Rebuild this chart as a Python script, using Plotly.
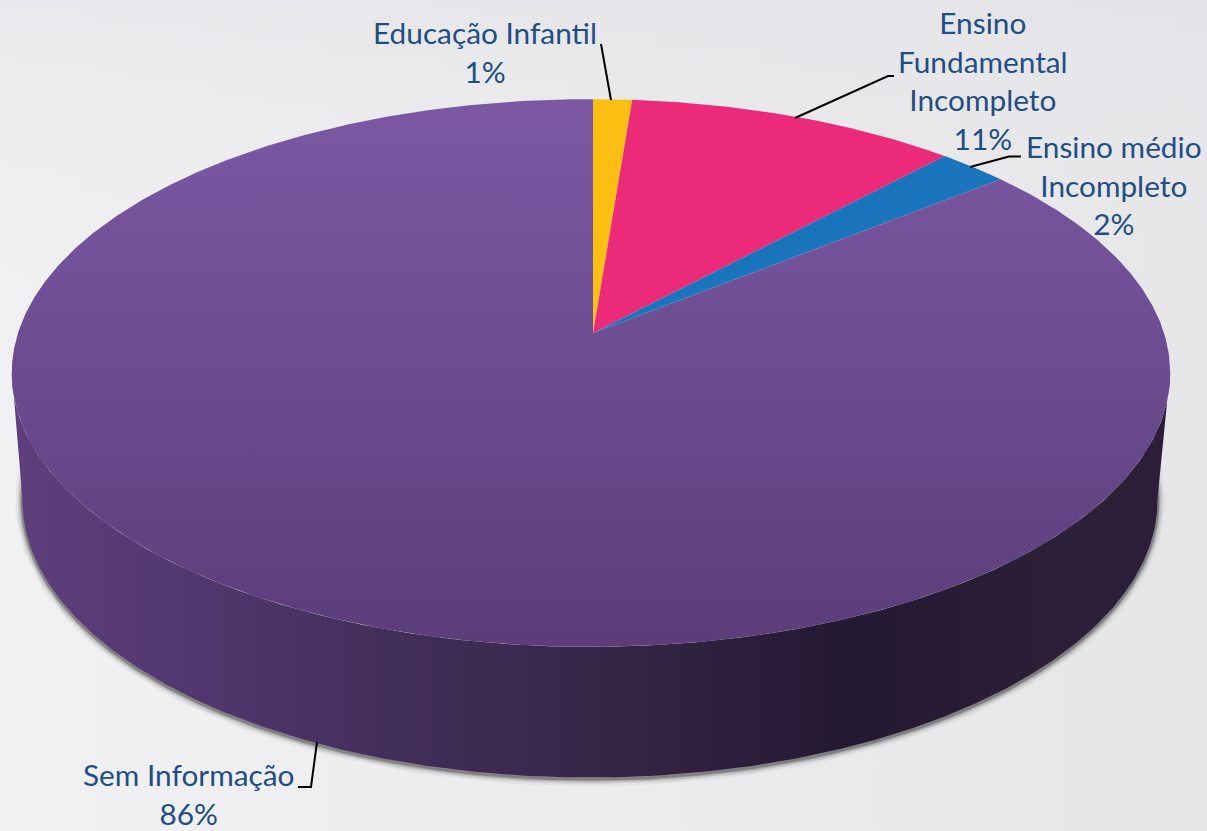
import numpy as np
import plotly.graph_objects as go

categories = ["Educação Infantil", "Ensino Fundamental Incompleto", "Ensino médio Incompleto", "Sem Informação"]
values = [1.25, 10.67, 2.28, 85.8]
tick_labels = ["1%", "11%", "2%", "86%"]
slice_colors = ["#FBBF14", "#EB2A7A", "#1B75BC", None]

# projection of the tilted disc onto the page
APEX = (593.0, 333.0)
A, B, K, M = 573.0, 268.0, 0.146, 0.0035
RIM_SCALE_X, RIM_SCALE_Y, RIM_X, RIM_Y = 0.98, 1.015, 592.0, 459.0


def project(t):
    d = 1 + K * np.cos(t) + M * np.sin(t)
    return A * np.sin(t) / d, -B * np.cos(t) / d


def top(t):
    x, y = project(t)
    return APEX[0] + x, APEX[1] + y


def rim(t):
    x, y = project(t)
    return RIM_X + RIM_SCALE_X * x, RIM_Y + RIM_SCALE_Y * y


fig = go.Figure()

# page background
fig.add_trace(go.Scatter(
    x=[0, 1207, 1207, 0, 0], y=[0, 0, 831, 831, 0], mode="lines", line=dict(width=0),
    fill="toself", hoverinfo="skip",
    fillgradient=dict(type="horizontal", start=0, stop=1207,
                      colorscale=[[0, "#F1F1F3"], [0.5, "#ECECEE"], [1, "#E6E6E9"]])))
fig.add_trace(go.Scatter(
    x=[0, 1207, 1207, 0, 0], y=[0, 0, 831, 831, 0], mode="lines", line=dict(width=0),
    fill="toself", hoverinfo="skip",
    fillgradient=dict(type="vertical", start=0, stop=831,
                      colorscale=[[0, "rgba(225,225,230,0.5)"], [0.45, "rgba(240,240,242,0)"], [1, "rgba(240,240,242,0)"]])))

# soft contact shadow under the side wall
arc = np.radians(np.linspace(85, 275, 300))
sx, sy = rim(arc)
for w, op in [(15, 0.05), (11, 0.08), (8, 0.12), (5, 0.2), (3, 0.3)]:
    fig.add_trace(go.Scatter(x=sx, y=sy + 1.5, mode="lines", hoverinfo="skip",
                             line=dict(color=f"rgba(50,50,50,{op})", width=w)))

# side wall
lower = np.radians(np.linspace(98, 262, 400))
rx, ry = rim(lower)
edge = np.radians(np.linspace(262, 98, 200))
ex, ey = top(edge)
fig.add_trace(go.Scatter(
    x=np.r_[rx, ex], y=np.r_[ry, ey], mode="lines", line=dict(width=0), fill="toself", hoverinfo="skip",
    fillgradient=dict(type="horizontal", start=15, stop=1170,
                      colorscale=[[0, "#5E3F7C"], [0.1, "#573A74"], [0.25, "#483263"], [0.5, "#362648"],
                                  [0.72, "#241933"], [0.92, "#2C1F38"], [1, "#2C1E38"]])))

# top face, one polygon per value
cum = np.r_[0, np.cumsum(values)] / sum(values) * 2 * np.pi
for i, name in enumerate(categories):
    t = np.linspace(cum[i], cum[i + 1], max(int(values[i] * 8), 12))
    x, y = top(t)
    px, py = np.r_[APEX[0], x, APEX[0]], np.r_[APEX[1], y, APEX[1]]
    kw = dict(fillcolor=slice_colors[i]) if slice_colors[i] else dict(
        fillgradient=dict(type="vertical", start=99, stop=647,
                          colorscale=[[0, "#7C58A3"], [0.5, "#6B4C90"], [1, "#5B3D7A"]]))
    fig.add_trace(go.Scatter(x=px, y=py, mode="lines", line=dict(width=0), fill="toself",
                             name=name, hoverinfo="name", **kw))

# leader lines
leaders = [
    ([611, 601], [100, 44]),
    ([795, 888, 894], [118, 76, 76]),
    ([970, 1009, 1021], [167, 156.5, 156.5]),
    ([317, 311, 298], [742, 787, 787]),
]
for lx, ly in leaders:
    fig.add_trace(go.Scatter(x=lx, y=ly, mode="lines", hoverinfo="skip",
                             line=dict(color="#000000", width=2)))

# labels
FONT = dict(family="Lato, Open Sans, sans-serif", size=29.8, color="#1F4E84")
label_text = [
    f"{categories[0]}<br>{tick_labels[0]}",
    f"Ensino<br>Fundamental<br>Incompleto<br>{tick_labels[1]}",
    f"Ensino médio<br>Incompleto<br>{tick_labels[2]}",
    f"{categories[3]}<br>{tick_labels[3]}",
]
anchors = [(485, 52), (983, 80), (1114, 185), (188, 794)]
for (ax, ay), txt in zip(anchors, label_text):
    fig.add_annotation(x=ax, y=ay, text=txt, showarrow=False, xanchor="center", yanchor="middle",
                       align="center", font=FONT)

fig.update_layout(
    width=1207, height=831, margin=dict(l=0, r=0, t=0, b=0), showlegend=False,
    paper_bgcolor="#ECECEE", plot_bgcolor="#ECECEE",
    xaxis=dict(range=[0, 1207], visible=False, fixedrange=True),
    yaxis=dict(range=[831, 0], visible=False, fixedrange=True),
)
fig.write_html("out.html", config=dict(displayModeBar=False),
               post_script="document.body.style.margin='0';document.documentElement.style.overflow='hidden';")
